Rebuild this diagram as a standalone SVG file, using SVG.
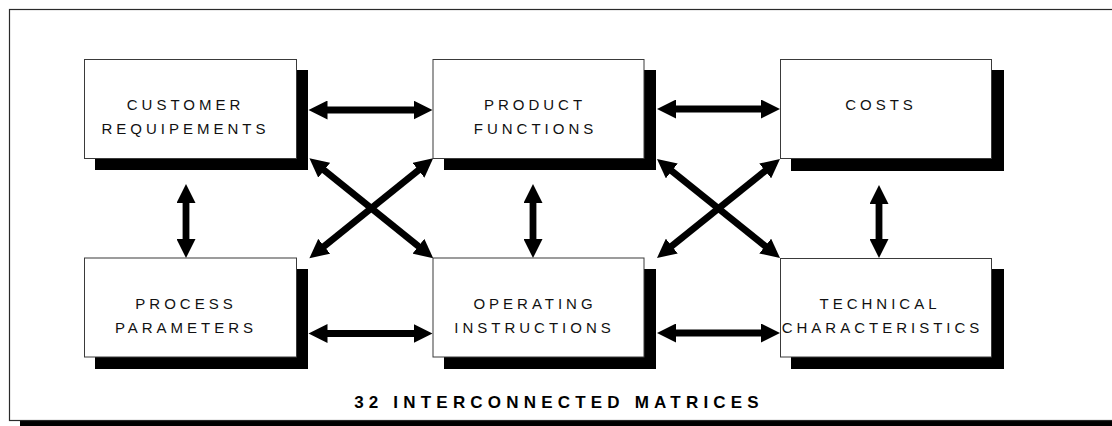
<svg xmlns="http://www.w3.org/2000/svg" width="1112" height="426" viewBox="0 0 1112 426">
  <style>
    .frame { fill: #ffffff; stroke: #2a2a2a; stroke-width: 1.2; }
    .shadow { fill: #000000; }
    .box { fill: #ffffff; stroke: #3a3a3a; stroke-width: 1; }
    .label { font-family: "Liberation Sans", Arial, sans-serif; font-size: 15px; letter-spacing: 4px; fill: #111111; text-anchor: middle; }
    .title { font-family: "Liberation Sans", Arial, sans-serif; font-size: 17px; font-weight: bold; letter-spacing: 5.2px; fill: #000000; text-anchor: middle; }
    .link { stroke: #000000; stroke-width: 6.8; fill: none; marker-start: url(#head); marker-end: url(#head); }
  </style>
  <defs>
    <!-- solid arrowhead; the shaft stops 10px short of each tip -->
    <marker id="head" markerUnits="userSpaceOnUse" markerWidth="20" markerHeight="19" viewBox="0 0 20 19" refX="9" refY="9.5" orient="auto-start-reverse">
      <path d="M0,0 L19,9.5 L0,19 z" fill="#000000"/>
    </marker>
  </defs>

  <rect width="1112" height="426" fill="#ffffff"/>

  <!-- outer panel with its drop shadow -->
  <g id="panel">
    <rect class="shadow" x="20" y="421" width="1100" height="6"/>
    <rect class="frame" x="9.5" y="9.5" width="1112" height="411"/>
  </g>

  <!-- connectors -->
  <g id="connectors">
    <!-- horizontal, top row -->
    <line class="link" x1="318.5" y1="110" x2="422.5" y2="110"/>
    <line class="link" x1="667" y1="109" x2="770" y2="109"/>
    <!-- horizontal, bottom row -->
    <line class="link" x1="318.5" y1="333.5" x2="422.5" y2="333.5"/>
    <line class="link" x1="667" y1="333" x2="770" y2="333"/>
    <!-- vertical -->
    <line class="link" x1="186" y1="194" x2="186" y2="248"/>
    <line class="link" x1="533" y1="194" x2="533" y2="248"/>
    <line class="link" x1="879" y1="195" x2="879" y2="248"/>
    <!-- diagonals, left crossing -->
    <line class="link" x1="317.2" y1="164.6" x2="425.4" y2="251.9"/>
    <line class="link" x1="425.4" y1="164.6" x2="317.2" y2="251.9"/>
    <!-- diagonals, right crossing -->
    <line class="link" x1="664.8" y1="165.3" x2="772.2" y2="251.7"/>
    <line class="link" x1="772.2" y1="165.3" x2="664.8" y2="251.7"/>
  </g>

  <!-- top row -->
  <g id="customer-requirements">
    <rect class="shadow" x="95" y="70" width="213" height="100"/>
    <rect class="box" x="84.5" y="59.5" width="212" height="99"/>
    <text class="label" x="185.5" y="110">CUSTOMER</text>
    <text class="label" x="185.5" y="134">REQUIPEMENTS</text>
  </g>
  <g id="product-functions">
    <rect class="shadow" x="444" y="70" width="212" height="100"/>
    <rect class="box" x="433" y="59.5" width="211" height="99"/>
    <text class="label" x="535" y="109.5">PRODUCT</text>
    <text class="label" x="535.5" y="134">FUNCTIONS</text>
  </g>
  <g id="costs">
    <rect class="shadow" x="791" y="70" width="213" height="101"/>
    <rect class="box" x="780.5" y="59.5" width="211" height="99"/>
    <text class="label" x="881" y="109.5">COSTS</text>
  </g>

  <!-- bottom row -->
  <g id="process-parameters">
    <rect class="shadow" x="95" y="269" width="213" height="100"/>
    <rect class="box" x="84.5" y="258" width="212" height="99"/>
    <text class="label" x="186" y="308.5">PROCESS</text>
    <text class="label" x="186" y="333">PARAMETERS</text>
  </g>
  <g id="operating-instructions">
    <rect class="shadow" x="444" y="269" width="212" height="100"/>
    <rect class="box" x="433" y="258" width="211" height="99"/>
    <text class="label" x="535" y="308.5">OPERATING</text>
    <text class="label" x="534.5" y="333">INSTRUCTIONS</text>
  </g>
  <g id="technical-characteristics">
    <rect class="shadow" x="791" y="269" width="213" height="100"/>
    <rect class="box" x="780.5" y="258.5" width="211" height="98.5"/>
    <text class="label" x="880" y="309">TECHNICAL</text>
    <text class="label" x="882.5" y="333">CHARACTERISTICS</text>
  </g>

  <text id="caption" class="title" x="559" y="407.5">32 INTERCONNECTED MATRICES</text>
</svg>
